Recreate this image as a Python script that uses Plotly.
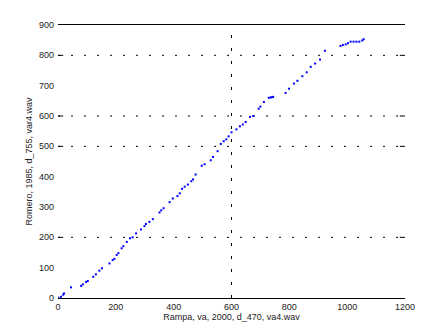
import plotly.graph_objects as go

x_vals = [1, 10, 18, 21, 45, 80, 86, 97, 103, 122, 131, 143, 152, 178, 189, 195, 203, 209,
          220, 226, 238, 249, 258, 270, 287, 299, 304, 316, 328, 351, 357, 365, 386, 397,
          413, 421, 429, 438, 449, 461, 467, 476, 497, 507, 528, 536, 552, 563, 573, 582,
          590, 600, 617, 629, 639, 649, 664, 675, 694, 700, 712, 729, 735, 740, 744, 787,
          799, 816, 828, 845, 860, 874, 889, 906, 923, 977, 985, 995, 1003, 1012, 1022,
          1032, 1042, 1052, 1057]
y_vals = [1, 4, 11, 15, 35, 40, 45, 53, 56, 70, 78, 90, 98, 114, 125, 129, 142, 148,
          164, 171, 185, 197, 200, 213, 226, 237, 244, 251, 260, 282, 289, 296, 316, 328,
          336, 345, 360, 367, 374, 385, 391, 407, 436, 441, 454, 465, 484, 508, 517, 523,
          533, 546, 556, 566, 572, 580, 597, 600, 624, 631, 646, 660, 661, 662, 663, 676,
          690, 707, 716, 731, 744, 762, 773, 786, 815, 831, 834, 836, 840, 845, 845,
          845, 845, 849, 853]

x_ticks = [0, 200, 400, 600, 800, 1000, 1200]
y_ticks = [0, 100, 200, 300, 400, 500, 600, 700, 800, 900]
y_grid = [200, 500, 600, 800]
x_grid = [600]

x_label = "Rampa, va, 2000, d_470, va4.wav"
y_label = "Romero, 1985, d_755, var4.wav"

fig = go.Figure()
fig.add_trace(go.Scatter(x=x_vals, y=y_vals, mode="markers",
                         marker=dict(color="#0000ff", size=2, symbol="square",
                                     line=dict(width=0)),
                         showlegend=False))

shapes = []
for g in y_grid:
    shapes.append(dict(type="line", xref="paper", yref="y", x0=0, x1=1, y0=g, y1=g,
                       line=dict(color="black", width=1, dash="2px,11px"), layer="below"))
    shapes.append(dict(type="line", xref="paper", yref="y", x0=0.985, x1=1, y0=g, y1=g,
                       line=dict(color="black", width=1)))
    shapes.append(dict(type="line", xref="paper", yref="y", x0=0, x1=0.015, y0=g, y1=g,
                       line=dict(color="black", width=1)))
for g in x_grid:
    shapes.append(dict(type="line", xref="x", yref="paper", x0=g, x1=g, y0=0, y1=1,
                       line=dict(color="black", width=1, dash="3px,10px"), layer="below"))

fig.update_layout(
    width=447, height=335,
    margin=dict(l=58, r=42, t=25, b=37),
    plot_bgcolor="white", paper_bgcolor="white",
    font=dict(family="Liberation Sans, Arial, sans-serif", size=9, color="#222222"),
    shapes=shapes,
    xaxis=dict(range=[0, 1200], tickvals=x_ticks, showgrid=False, zeroline=False,
               showline=True, linecolor="black", linewidth=1, mirror=True,
               ticks="", ticklabelstandoff=0,
               title=dict(text=x_label, font=dict(size=9), standoff=0)),
    yaxis=dict(range=[0, 900], tickvals=y_ticks, showgrid=False, zeroline=False,
               showline=False, ticks="", ticklabelstandoff=3,
               title=dict(text=y_label, font=dict(size=9), standoff=4)),
)

fig.write_html("out.html")
